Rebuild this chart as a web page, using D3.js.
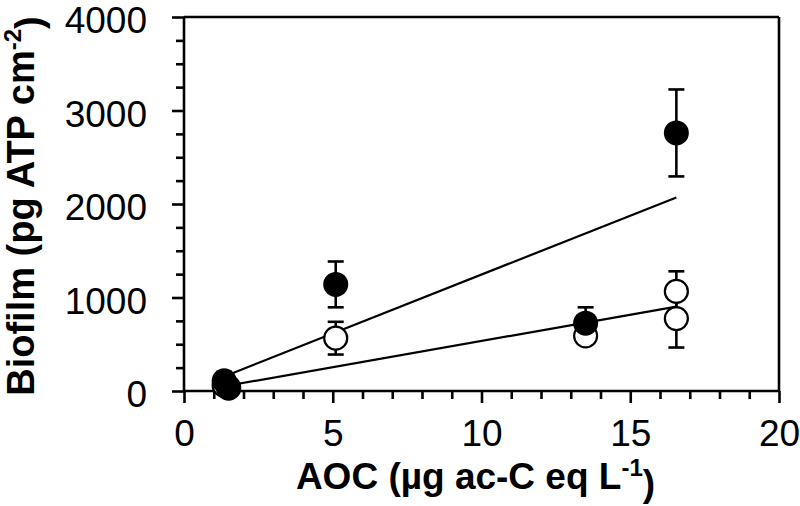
<!DOCTYPE html>
<html><head><meta charset="utf-8">
<script src="https://cdn.jsdelivr.net/npm/d3@7/dist/d3.min.js"></script>
<style>body{margin:0;background:#fff}svg{display:block}</style>
</head><body>
<svg id="chart" width="800" height="506"></svg>
<script>
// ---- data ----
const filledX = [1.35, 1.5, 5.1, 13.5, 16.55];
const filledY = [110, 40, 1140, 725, 2760];
const filledErr = [0, 0, 245, 170, 465];

const openX = [1.35, 1.5, 5.1, 13.5, 16.55, 16.55];
const openY = [60, 30, 565, 590, 1065, 775];
const openErr = [0, 0, 175, 0, 215, 310];

// linear fits: [slope, intercept]
const filledFit = [126, -15];
const openFit = [56, -25];

const xTicks = [0, 5, 10, 15, 20];
const yTicks = [0, 1000, 2000, 3000, 4000];

// ---- layout ----
const svg = d3.select("#chart");
const L = 184, R = 779, T = 17, B = 391;
const x = d3.scaleLinear().domain([0, 20]).range([L, R]);
const y = d3.scaleLinear().domain([0, 4000]).range([B, T]);
const font = "'Liberation Sans', Arial, sans-serif";
const sw = 2.6;

// frame top & right
svg.append("line").attr("x1", L).attr("x2", R).attr("y1", T).attr("y2", T)
  .attr("stroke", "#000").attr("stroke-width", sw);
svg.append("line").attr("x1", R).attr("x2", R).attr("y1", T).attr("y2", B)
  .attr("stroke", "#000").attr("stroke-width", sw);

// x axis
const gx = svg.append("g").attr("transform", `translate(0,${B})`);
gx.call(d3.axisBottom(x).tickValues(d3.range(0, 21, 1)).tickSize(8).tickFormat(""));
gx.selectAll(".tick line").attr("stroke-width", sw)
  .attr("y2", d => (d % 5 === 0 ? 12 : 8));
gx.select(".domain").attr("stroke-width", sw).attr("d", `M${L},0H${R}`);
gx.selectAll(".tick").filter(d => xTicks.includes(d)).append("text")
  .attr("y", 55).attr("fill", "#000").attr("text-anchor", "middle")
  .style("font-family", font).style("font-size", "37px").text(d => d);

// y axis
const gy = svg.append("g").attr("transform", `translate(${L},0)`);
gy.call(d3.axisLeft(y).tickValues(d3.range(0, 4001, 250)).tickSize(8).tickFormat(""));
gy.selectAll(".tick line").attr("stroke-width", sw)
  .attr("x2", d => (d % 1000 === 0 ? -12 : -8));
gy.select(".domain").attr("stroke-width", sw).attr("d", `M0,${T}V${B}`);
gy.selectAll(".tick").filter(d => yTicks.includes(d)).append("text")
  .attr("x", -37).attr("dy", "0.42em").attr("fill", "#000").attr("text-anchor", "end")
  .style("font-family", font).style("font-size", "37px").text(d => d);

// axis titles
const xt = svg.append("text").attr("x", (L + R) / 2 - 6).attr("y", 489)
  .attr("text-anchor", "middle").style("font-family", font).style("font-size", "37px")
  .style("font-weight", "bold").attr("fill", "#000");
xt.append("tspan").text("AOC (µg ac-C eq L");
xt.append("tspan").attr("dy", "-0.55em").style("font-size", "24px").text("-1");
xt.append("tspan").attr("dy", "0.55em").text(")");

const yt = svg.append("text").attr("transform", `translate(34,${206}) rotate(-90)`)
  .attr("text-anchor", "middle").style("font-family", font).style("font-size", "38px")
  .style("font-weight", "bold").attr("fill", "#000");
yt.append("tspan").text("Biofilm (pg ATP cm");
yt.append("tspan").attr("dy", "-0.55em").style("font-size", "24px").text("-2");
yt.append("tspan").attr("dy", "0.55em").text(")");

// regression lines
function fitLine(xs, fit) {
  const x0 = d3.min(xs), x1 = d3.max(xs);
  svg.append("line")
    .attr("x1", x(x0)).attr("y1", y(fit[0] * x0 + fit[1]))
    .attr("x2", x(x1)).attr("y2", y(fit[0] * x1 + fit[1]))
    .attr("stroke", "#000").attr("stroke-width", 2.2);
}
fitLine(filledX, filledFit);
fitLine(openX, openFit);

// error bars
function errBars(xs, ys, es) {
  const g = svg.append("g").attr("stroke", "#000").attr("stroke-width", sw);
  xs.forEach((xv, i) => {
    if (!es[i]) return;
    const cx = x(xv), y1 = y(ys[i] - es[i]), y2 = y(ys[i] + es[i]);
    g.append("line").attr("x1", cx).attr("x2", cx).attr("y1", y1).attr("y2", y2);
    g.append("line").attr("x1", cx - 8).attr("x2", cx + 8).attr("y1", y1).attr("y2", y1);
    g.append("line").attr("x1", cx - 8).attr("x2", cx + 8).attr("y1", y2).attr("y2", y2);
  });
}
errBars(filledX, filledY, filledErr);
errBars(openX, openY, openErr);

// points
svg.append("g").selectAll("circle").data(openX).join("circle")
  .attr("cx", d => x(d)).attr("cy", (d, i) => y(openY[i])).attr("r", 11.5)
  .attr("fill", "#fff").attr("stroke", "#000").attr("stroke-width", 2.2);
svg.append("g").selectAll("circle").data(filledX).join("circle")
  .attr("cx", d => x(d)).attr("cy", (d, i) => y(filledY[i])).attr("r", 12.5)
  .attr("fill", "#000");
</script>
</body></html>
